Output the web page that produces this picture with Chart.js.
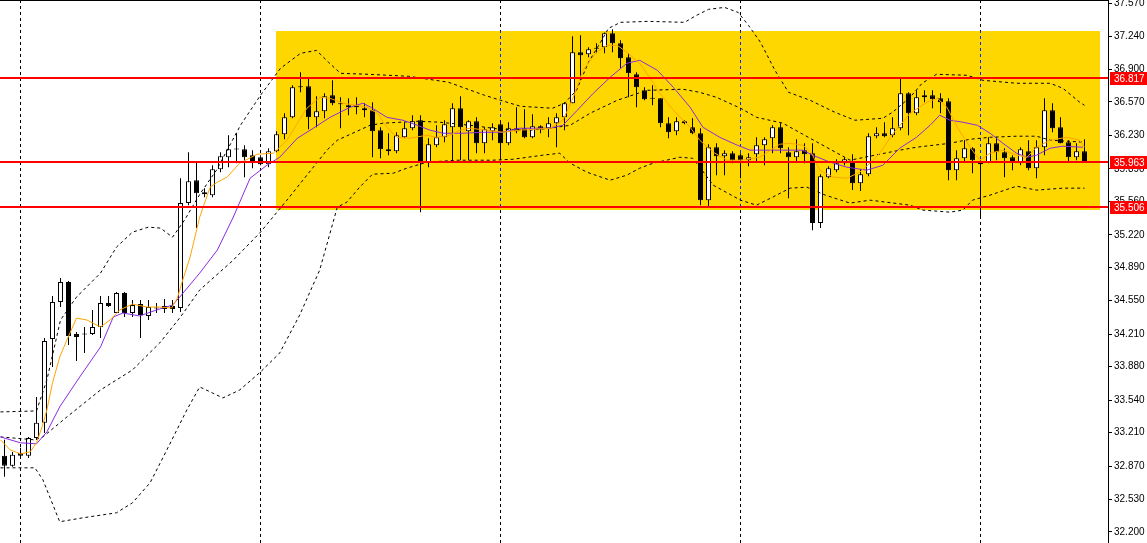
<!DOCTYPE html>
<html lang="en">
<head>
<meta charset="UTF-8">
<title>Price chart</title>
<script src="https://cdn.jsdelivr.net/npm/chart.js"></script>
<style>
    html, body { margin: 0; padding: 0; background: #fff; overflow: hidden; }
    #wrap { width: 1147px; height: 543px; }
</style>
</head>
<body>
<div id="wrap"><canvas id="chart" width="1147" height="543"></canvas></div>
<script>
// one value per bar, oldest bar first
const opens = [32.974,32.872,33.004,32.974,33.156,33.309,34.161,34.537,34.740,34.212,34.207,34.212,34.283,34.527,34.425,34.628,34.425,34.516,34.395,34.470,
    34.466,34.496,34.476,35.542,35.775,35.653,35.623,35.887,36.008,36.086,36.090,36.029,36.008,35.937,36.069,36.242,36.414,36.729,36.729,36.414,
    36.475,36.638,36.557,36.536,36.536,36.506,36.486,36.283,36.090,36.069,36.211,36.303,36.384,35.958,36.130,36.211,36.313,36.506,36.272,36.374,
    36.150,36.272,36.343,36.150,36.303,36.303,36.211,36.323,36.303,36.354,36.414,36.557,37.074,37.054,37.110,37.125,37.267,37.166,37.023,36.851,
    36.688,36.603,36.607,36.354,36.272,36.374,36.313,36.252,35.572,36.110,36.019,36.049,36.029,35.978,36.039,36.130,36.201,36.313,36.059,36.008,
    36.080,36.049,35.339,35.805,35.877,35.948,35.968,35.745,35.836,36.222,36.252,36.232,36.303,36.658,36.455,36.638,36.638,36.607,36.577,35.877,
    35.998,36.100,35.958,35.958,36.150,36.059,36.008,35.948,36.069,35.897,36.110,36.486,36.313,36.161,36.008,36.069];
const highs = [33.136,33.014,33.055,33.166,33.572,34.171,34.598,34.780,34.750,34.232,34.283,34.456,34.598,34.598,34.638,34.638,34.557,34.557,34.557,34.527,
    34.567,34.557,35.795,36.059,35.958,35.694,35.927,36.059,36.232,36.252,36.130,36.080,36.029,36.100,36.272,36.455,36.739,36.871,36.810,36.628,
    36.658,36.790,36.617,36.607,36.617,36.557,36.567,36.313,36.252,36.262,36.364,36.435,36.435,36.201,36.333,36.384,36.557,36.628,36.384,36.414,
    36.313,36.354,36.384,36.364,36.516,36.496,36.445,36.333,36.414,36.455,36.567,37.237,37.247,37.125,37.166,37.277,37.308,37.196,37.064,36.871,
    36.719,36.739,36.607,36.414,36.414,36.384,36.404,36.303,36.140,36.150,36.080,36.069,36.049,36.049,36.211,36.211,36.333,36.354,36.110,36.191,
    36.150,36.150,35.836,35.917,35.988,36.008,36.039,35.887,36.252,36.313,36.364,36.414,36.810,36.668,36.688,36.688,36.688,36.658,36.607,36.080,
    36.181,36.110,35.978,36.211,36.211,36.100,36.029,36.110,36.181,36.181,36.607,36.557,36.414,36.181,36.150,36.191];
const lows = [32.760,32.862,32.943,32.953,33.136,33.207,33.877,34.486,34.100,33.938,34.019,34.202,34.171,34.486,34.425,34.385,34.385,34.171,34.354,34.425,
    34.425,34.425,34.435,35.521,35.288,35.602,35.602,35.856,35.907,35.948,35.805,35.897,35.927,35.907,36.059,36.191,36.404,36.668,36.293,36.313,
    36.404,36.536,36.303,36.435,36.445,36.414,36.008,35.998,36.029,36.049,36.201,36.283,35.450,35.907,36.110,36.161,35.978,35.978,35.978,36.049,
    36.049,36.181,35.978,36.130,36.252,36.201,36.201,36.252,36.211,36.110,36.283,36.557,36.790,37.023,37.064,37.064,37.074,36.912,36.617,36.516,
    36.587,36.536,36.313,36.201,36.232,36.343,36.242,35.521,35.511,35.826,35.826,35.948,35.795,35.917,35.958,35.927,36.049,36.049,35.592,35.958,
    35.948,35.267,35.288,35.795,35.856,35.927,35.674,35.664,35.816,36.201,36.211,36.211,36.283,36.232,36.435,36.567,36.506,36.455,35.775,35.775,
    35.958,35.846,35.400,35.948,35.978,35.805,35.877,35.927,35.877,35.795,36.029,36.262,36.150,35.968,35.978,35.958];
const closes = [32.872,32.984,32.974,33.156,33.309,34.141,34.537,34.740,34.192,34.182,34.215,34.283,34.527,34.496,34.628,34.425,34.506,34.405,34.486,34.478,
    34.496,34.466,35.542,35.765,35.643,35.633,35.887,36.019,36.090,36.094,36.008,35.958,35.937,36.069,36.242,36.414,36.719,36.719,36.414,36.475,
    36.628,36.557,36.546,36.516,36.516,36.486,36.272,36.090,36.069,36.232,36.303,36.374,35.958,36.140,36.211,36.343,36.506,36.313,36.374,36.150,
    36.293,36.313,36.150,36.303,36.272,36.211,36.323,36.293,36.354,36.414,36.557,37.074,37.044,37.105,37.118,37.267,37.166,37.013,36.861,36.719,
    36.597,36.611,36.354,36.262,36.374,36.354,36.252,35.572,36.110,36.019,36.049,35.978,35.978,36.008,36.130,36.191,36.313,36.100,36.008,36.069,
    36.039,35.339,35.816,35.897,35.948,35.988,35.745,35.836,36.222,36.252,36.222,36.303,36.658,36.455,36.617,36.617,36.597,36.567,35.877,35.998,
    36.100,35.978,35.937,36.150,36.059,35.998,35.958,36.090,35.897,36.110,36.486,36.303,36.150,36.008,36.069,35.958];

// indicator lines as [bar, price]
const bandUpper = [[-0.5,33.420],[4,33.430],[5.3,33.745],[7,34.354],[9,34.587],[12,34.831],[14,35.095],[16,35.247],[18,35.298],[19.5,35.288],
    [21,35.196],[22.5,35.369],[24.5,35.643],[26.5,35.877],[29.5,36.333],[32,36.638],[34.5,36.912],[37,37.064],[39,37.094],[40.5,36.973],
    [42,36.861],[45.5,36.851],[50.5,36.831],[55.5,36.770],[60,36.638],[62,36.587],[64.5,36.526],[68.5,36.506],[70,36.557],[71.5,36.688],
    [73,36.973],[74.5,37.176],[75.5,37.318],[77,37.379],[80.5,37.389],[85,37.379],[86.5,37.450],[88,37.511],[90,37.531],[91.7,37.480],
    [93,37.348],[94.5,37.176],[96.3,36.892],[98,36.668],[100.7,36.587],[103.8,36.465],[106.3,36.384],[109.8,36.404],[111,36.465],[113.2,36.617],
    [114.7,36.760],[116.5,36.851],[120.3,36.841],[122.3,36.790],[126.5,36.760],[130.7,36.760],[132.3,36.709],[134.4,36.567],[135,36.536]];
const bandMiddle = [[-0.5,33.166],[3.8,33.136],[4.8,33.166],[7.8,33.369],[12,33.643],[16,33.847],[19.4,34.121],[22,34.385],[24.4,34.659],[28.6,34.963],
    [32,35.247],[35.3,35.572],[37.3,35.775],[40.3,36.080],[41.6,36.181],[45.7,36.333],[47.3,36.354],[51.7,36.374],[54.4,36.364],[58.2,36.333],
    [62,36.293],[65.7,36.283],[68.2,36.303],[70.7,36.333],[73.2,36.455],[76.6,36.587],[80.3,36.688],[84.8,36.699],[86.9,36.668],[89,36.617],
    [92,36.506],[94,36.414],[97.3,36.354],[100.7,36.201],[105.7,35.978],[111.9,36.080],[114,36.110],[118.2,36.150],[120.7,36.191],[123.2,36.211],
    [126.5,36.222],[129,36.222],[130.7,36.181],[135,36.161]];
const bandLower = [[-0.5,32.852],[3.8,32.852],[4.8,32.730],[6.9,32.304],[9.8,32.344],[14,32.395],[16,32.497],[18.2,32.700],[20.3,33.035],[22.8,33.441],
    [24.4,33.674],[26,33.613],[27.3,33.562],[29.4,33.643],[32,33.826],[34.4,34.019],[36.9,34.405],[39.4,34.862],[41.6,35.501],[42.8,35.552],
    [44.4,35.704],[46,35.836],[48.6,35.846],[50.3,35.897],[52.8,35.958],[56.6,35.978],[61,35.978],[63.6,35.988],[67.3,36.029],[69.4,36.049],
    [70.7,35.948],[72.8,35.856],[75.7,35.775],[77.8,35.826],[79.4,35.897],[81.1,35.948],[84.4,36.008],[86,35.998],[86.9,35.907],[88.6,35.724],
    [92,35.572],[94,35.521],[96,35.602],[98.2,35.694],[100.3,35.704],[102.6,35.623],[105.7,35.542],[108.2,35.572],[113.2,35.521],[114.8,35.471],
    [118.2,35.450],[119.8,35.471],[121,35.572],[123.2,35.623],[126.5,35.714],[129,35.674],[132.3,35.694],[135,35.694]];
const fastMa = [[-0.5,33.136],[0.7,33.035],[2,32.994],[3.2,33.014],[4,33.106],[4.7,33.268],[5.3,33.441],[6,33.715],[6.9,33.978],[7.8,34.151],
    [9,34.374],[10.3,34.354],[12,34.283],[13.2,34.354],[14.4,34.456],[16,34.516],[17.8,34.486],[19.4,34.486],[20.9,34.476],[21.6,34.577],
    [22.2,34.740],[23.2,34.994],[24.4,35.400],[25.7,35.704],[26.6,35.755],[27.8,35.805],[29.4,35.948],[31.6,36.039],[33.6,36.049],[35.3,36.181],
    [36.6,36.354],[37.8,36.506],[39.4,36.617],[40.7,36.607],[42.3,36.557],[44,36.536],[45.3,36.516],[46.6,36.455],[47.8,36.313],[49,36.211],
    [50.7,36.201],[52.8,36.232],[54,36.211],[55.7,36.232],[56.9,36.283],[58.2,36.303],[60.3,36.283],[62.3,36.262],[64.4,36.283],[68.2,36.303],
    [69.8,36.384],[71.1,36.617],[72.3,36.891],[74,37.074],[75.3,37.145],[76.6,37.145],[77.8,37.074],[79.4,36.963],[80.7,36.810],[81.9,36.658],
    [83.6,36.486],[85.7,36.313],[86.9,36.181],[88.6,36.059],[90.3,35.978],[92,35.978],[94.4,36.008],[96.9,36.140],[98.2,36.150],[99.8,36.130],
    [100.9,36.049],[101.9,35.877],[103.6,35.805],[105.3,35.795],[106.9,35.856],[108.6,35.978],[109.4,36.049],[111.1,36.252],[113.2,36.455],[115.3,36.567],
    [116.6,36.607],[117.8,36.516],[119.1,36.313],[120.7,36.110],[121.9,35.978],[123.2,36.049],[124.8,36.080],[126.5,36.029],[127.8,36.008],[129,36.110],
    [130.7,36.181],[132.8,36.211],[134.4,36.181],[135,36.110]];
const slowMa = [[-0.5,33.166],[2,33.106],[4,33.096],[5.3,33.217],[6.9,33.471],[9.4,33.775],[12,34.080],[13.6,34.385],[14.8,34.425],[16.9,34.395],
    [19,34.456],[21,34.506],[21.9,34.587],[24.4,34.831],[26.6,35.065],[28.6,35.400],[30.7,35.795],[32.8,35.927],[34.4,36.008],[36.6,36.201],
    [38.6,36.303],[40.7,36.414],[43.2,36.516],[44.8,36.557],[46,36.506],[47.8,36.414],[49.8,36.384],[51.6,36.333],[53.2,36.283],[54.8,36.252],
    [57.3,36.252],[59.8,36.262],[62.3,36.262],[64.4,36.303],[68.2,36.303],[69.8,36.333],[71.6,36.486],[73.6,36.658],[75.7,36.820],[77.8,36.963],
    [79.4,36.993],[81.6,36.892],[83.6,36.719],[85.7,36.516],[87.3,36.313],[89.4,36.211],[91.6,36.130],[93.2,36.080],[96.9,36.080],[99.8,36.080],
    [101,36.029],[103.2,35.958],[105.3,35.907],[107.8,35.877],[109.8,35.927],[111.9,36.100],[114,36.211],[115.7,36.333],[116.9,36.435],[118.2,36.384],
    [119.8,36.364],[121.6,36.333],[123.2,36.252],[124.8,36.150],[126.5,36.049],[127.8,36.008],[129,36.029],[130.7,36.100],[132.3,36.120],[134.8,36.110]];

const priceTicks = [37.570, 37.240, 36.900, 36.570, 36.230, 35.890, 35.560, 35.220, 34.890, 34.550, 34.210, 33.880, 33.540, 33.210, 32.870, 32.530, 32.200];
const levels = [36.817, 35.963, 35.506];
const gridBars = [2, 32, 62, 92, 122];
const zoneBars = [33.9, 136.9];
const zonePrices = [37.287, 35.470];

const toXY = pts => pts.map(p => ({x: p[0], y: p[1]}));

// yellow zone, dotted grid (blue where it crosses the zone), red levels
const overlay = {
    id: 'overlay',
    beforeDatasetsDraw(chart) {
        const {ctx, chartArea: a, scales: {x, y}} = chart;
        const zx = Math.round(x.getPixelForValue(zoneBars[0])), zr = Math.round(x.getPixelForValue(zoneBars[1]));
        const zy = Math.round(y.getPixelForValue(zonePrices[0])), zb = Math.round(y.getPixelForValue(zonePrices[1]));
        ctx.save();
        ctx.fillStyle = '#ffd700';
        ctx.fillRect(zx, zy, zr - zx, zb - zy);

        ctx.lineWidth = 1;
        ctx.setLineDash([3, 3]);
        gridBars.forEach(b => {
            const px = Math.floor(x.getPixelForValue(b)) + 0.5;
            // outside the zone: black
            ctx.save();
            ctx.beginPath();
            ctx.rect(a.left, a.top, a.right - a.left, a.bottom - a.top);
            ctx.rect(zx, zy, zr - zx, zb - zy);
            ctx.clip('evenodd');
            ctx.strokeStyle = '#000';
            ctx.beginPath();
            ctx.moveTo(px, a.top);
            ctx.lineTo(px, a.bottom);
            ctx.stroke();
            ctx.restore();
            // inside the zone: blue
            ctx.save();
            ctx.beginPath();
            ctx.rect(zx, zy, zr - zx, zb - zy);
            ctx.clip();
            ctx.strokeStyle = '#0028ff';
            ctx.beginPath();
            ctx.moveTo(px, a.top);
            ctx.lineTo(px, a.bottom);
            ctx.stroke();
            ctx.restore();
        });
        ctx.restore();
    },
    afterDatasetsDraw(chart) {
        const {ctx, chartArea: a, scales: {y}} = chart;
        ctx.save();
        ctx.strokeStyle = '#ff0000';
        ctx.lineWidth = 2;
        levels.forEach(v => {
            const py = Math.round(y.getPixelForValue(v));
            ctx.beginPath();
            ctx.moveTo(a.left, py);
            ctx.lineTo(a.right, py);
            ctx.stroke();
        });
        // top frame line
        ctx.strokeStyle = '#000';
        ctx.lineWidth = 1;
        ctx.beginPath();
        ctx.moveTo(a.left, 0.5);
        ctx.lineTo(a.right, 0.5);
        ctx.stroke();
        ctx.restore();
    },
    afterDraw(chart) {
        const {ctx, chartArea: a, scales: {y}} = chart;
        ctx.save();
        ctx.font = '10px "Liberation Sans", Arial, sans-serif';
        ctx.textBaseline = 'middle';
        levels.forEach(v => {
            const py = Math.round(y.getPixelForValue(v));
            ctx.fillStyle = '#ff0000';
            ctx.fillRect(a.right + 2, py - 6, chart.width - a.right - 2, 13);
            ctx.fillStyle = '#fff';
            ctx.fillText(v.toFixed(3), a.right + 6, py + 1);
        });
        ctx.restore();
    }
};

const barIdx = opens.map((_, i) => i);

new Chart(document.getElementById('chart'), {
    type: 'bar',
    data: {
        datasets: [
            {
                type: 'line', label: 'fast', data: toXY(fastMa),
                borderColor: '#ffa500', borderWidth: 1, pointRadius: 0, tension: 0, order: 1
            },
            {
                type: 'line', label: 'slow', data: toXY(slowMa),
                borderColor: '#8a2be2', borderWidth: 1, pointRadius: 0, tension: 0, order: 1
            },
            {
                type: 'line', label: 'upper', data: toXY(bandUpper),
                borderColor: '#000', borderWidth: 1, borderDash: [3, 3], pointRadius: 0, tension: 0, order: 2
            },
            {
                type: 'line', label: 'middle', data: toXY(bandMiddle),
                borderColor: '#000', borderWidth: 1, borderDash: [3, 3], pointRadius: 0, tension: 0, order: 2
            },
            {
                type: 'line', label: 'lower', data: toXY(bandLower),
                borderColor: '#000', borderWidth: 1, borderDash: [3, 3], pointRadius: 0, tension: 0, order: 2
            },
            {
                label: 'body',
                data: barIdx.map(i => ({x: i, y: [opens[i], closes[i]]})),
                backgroundColor: barIdx.map(i => closes[i] >= opens[i] ? '#ffffff' : '#000000'),
                borderColor: '#000', borderWidth: 1, borderSkipped: false,
                barThickness: 5, minBarLength: 1, grouped: false, inflateAmount: 0, order: 3
            },
            {
                label: 'wick',
                data: barIdx.map(i => ({x: i, y: [lows[i], highs[i]]})),
                backgroundColor: '#000', borderWidth: 0,
                barThickness: 1, grouped: false, inflateAmount: 0, order: 4
            }
        ]
    },
    options: {
        responsive: false,
        animation: false,
        devicePixelRatio: 1,
        events: [],
        layout: { padding: 0 },
        plugins: { legend: { display: false }, tooltip: { enabled: false } },
        scales: {
            x: {
                type: 'linear', display: false, offset: false,
                min: -0.5625, max: 137.9375
            },
            y: {
                type: 'linear', position: 'right',
                min: 32.088, max: 37.606,
                afterBuildTicks: s => { s.ticks = priceTicks.map(v => ({value: v})); },
                afterFit: s => { s.width = 39; s.paddingTop = 0; s.paddingBottom = 0; },
                grid: { drawOnChartArea: false, drawTicks: true, tickLength: 4, color: '#000' },
                border: { display: true, color: '#000', width: 1 },
                ticks: {
                    color: '#000', padding: 2,
                    font: { family: '"Liberation Sans", Arial, sans-serif', size: 10 },
                    callback: v => v.toFixed(3)
                }
            }
        }
    },
    plugins: [overlay]
});
</script>
</body>
</html>
